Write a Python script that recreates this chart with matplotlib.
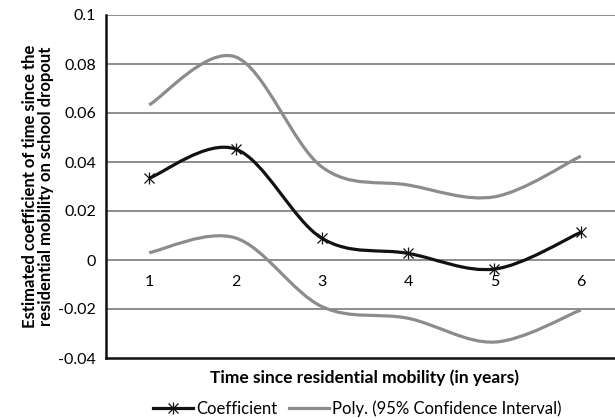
import numpy as np
import matplotlib
matplotlib.use('Agg')
import matplotlib.pyplot as plt
from matplotlib.path import Path
from matplotlib.patches import PathPatch
from matplotlib.lines import Line2D

plt.rcParams['font.family'] = ['Lato', 'DejaVu Sans']

years = [1, 2, 3, 4, 5, 6]
coefficient = [0.0334, 0.0453, 0.0089, 0.0027, -0.0037, 0.0113]
ci_upper = [0.0633, 0.0829, 0.0380, 0.0306, 0.0258, 0.0424]
ci_lower = [0.0030, 0.0090, -0.0190, -0.0238, -0.0335, -0.0204]
yticks = [-0.04, -0.02, 0, 0.02, 0.04, 0.06, 0.08, 0.1]
ytick_labels = ['-0.04', '-0.02', '0', '0.02', '0.04', '0.06', '0.08', '0.1']


def smooth_path(x, y):
    # excel-like smoothed line: catmull-rom control points as cubic beziers
    x = np.asarray(x, float)
    y = np.asarray(y, float)
    n = len(x)
    verts = [(x[0], y[0])]
    codes = [Path.MOVETO]
    for i in range(n - 1):
        i0 = max(i - 1, 0)
        i3 = min(i + 2, n - 1)
        c1 = (x[i] + (x[i + 1] - x[i0]) / 6, y[i] + (y[i + 1] - y[i0]) / 6)
        c2 = (x[i + 1] - (x[i3] - x[i]) / 6, y[i + 1] - (y[i3] - y[i]) / 6)
        verts += [c1, c2, (x[i + 1], y[i + 1])]
        codes += [Path.CURVE4] * 3
    return Path(verts, codes)


fig = plt.figure(figsize=(6.15, 4.18), dpi=100)
ax = fig.add_axes([106 / 615, 1 - 358 / 418, 518 / 615, 343 / 418])
ax.set_xlim(0.5, 6.5)
ax.set_ylim(-0.04, 0.1)

for v in yticks[1:]:
    ax.axhline(v, color='#858585', lw=1.3, zorder=1)

gray = '#8c8c8c'
for series in (ci_upper, ci_lower):
    ax.add_patch(PathPatch(smooth_path(years, series), fill=False,
                           edgecolor=gray, lw=2.3, zorder=2, capstyle='butt'))
ax.add_patch(PathPatch(smooth_path(years, coefficient), fill=False,
                       edgecolor='#111111', lw=2.3, zorder=3, capstyle='butt'))
ax.plot(years, coefficient, ls='none', marker='x', ms=7, mew=0.9, color='#111111', zorder=4)
ax.plot(years, coefficient, ls='none', marker='|', ms=8, mew=0.9, color='#111111', zorder=4)

for s in ['top', 'right']:
    ax.spines[s].set_visible(False)
for s in ['left', 'bottom']:
    ax.spines[s].set_linewidth(1.8)
    ax.spines[s].set_color('#111111')

ax.set_xticks([])
ax.set_yticks(yticks)
ax.set_yticklabels(ytick_labels, fontsize=11.5)
ax.tick_params(axis='y', length=0, pad=7)
for x in years:
    ax.annotate(str(x), (x, 0), xytext=(0, -11), textcoords='offset points',
                ha='center', va='top', fontsize=11.5)

ax.set_ylabel('Estimated coefficient of time since the\nresidential mobility on school dropout',
              fontsize=12, fontweight='bold', labelpad=3, linespacing=1.0)
ax.set_xlabel('Time since residential mobility (in years)', fontsize=12.5,
              fontweight='bold', labelpad=8)

coef_handle = (Line2D([], [], color='#111111', lw=2.3),
               Line2D([], [], ls='none', marker='x', ms=7, mew=0.9, color='#111111'),
               Line2D([], [], ls='none', marker='|', ms=8, mew=0.9, color='#111111'))
ci_handle = Line2D([], [], color=gray, lw=2.3)
fig.legend([coef_handle, ci_handle], ['Coefficient', 'Poly. (95% Confidence Interval)'],
           loc='center', bbox_to_anchor=(357 / 615, 1 - 409 / 418), ncol=2,
           frameon=False, fontsize=12, handlelength=2.4, handletextpad=0.2,
           columnspacing=0.7)

fig.savefig('out.png', dpi=100)
